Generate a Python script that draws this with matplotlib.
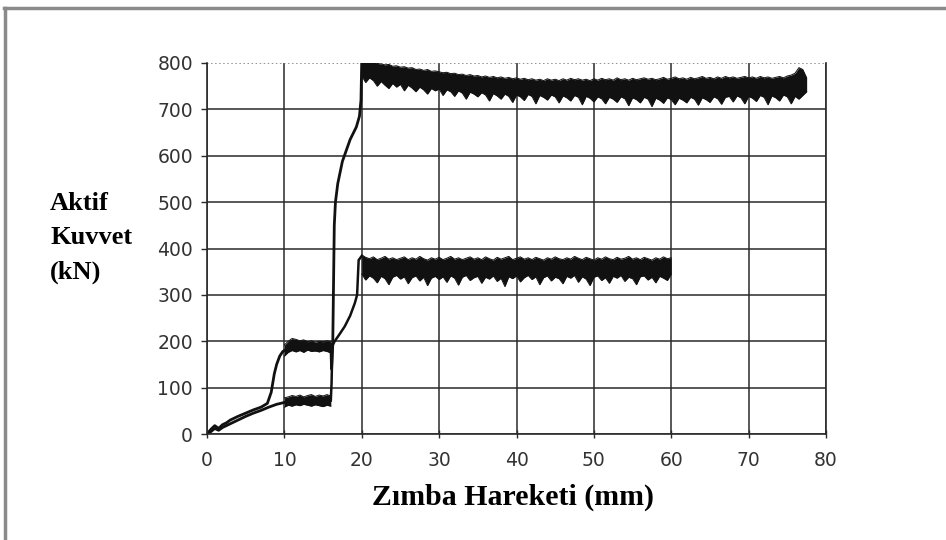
import numpy as np
import matplotlib
matplotlib.use("Agg")
import matplotlib.pyplot as plt
from matplotlib.lines import Line2D

# ---- data (kN vs mm) ----
# curve 1 (upper trace): ramp, first plateau, second rise, noisy top plateau
ramp1_x = [0, 0.5, 1.0, 1.5, 2.0, 2.5, 3, 4, 5, 6, 7, 7.8, 8.3, 8.7, 9.0, 9.4, 9.8, 10.0]
ramp1_y = [0, 10, 18, 12, 20, 24, 30, 38, 45, 52, 58, 66, 90, 130, 150, 168, 178, 180]

band1a_hi = [192, 200, 206, 204, 201, 203, 199, 201, 198, 200, 199, 201, 199]
band1a_lo = [168, 176, 180, 177, 180, 176, 181, 178, 179, 177, 180, 178, 175]

rise1_x = [16.0, 16.1, 16.25, 16.35, 16.45, 16.6, 16.9, 17.5, 18.5, 19.3, 19.7, 19.9, 20.0]
rise1_y = [192, 140, 190, 320, 450, 500, 540, 588, 635, 662, 685, 720, 805]

band1b_hi = [806, 803, 801, 804, 799, 798, 796, 797, 793, 794,
             791, 792, 789, 790, 786, 787, 784, 786, 782, 783,
             781, 779, 780, 777, 778, 775, 776, 773, 775, 772,
             773, 770, 772, 769, 771, 768, 770, 767, 769, 766,
             768, 765, 767, 764, 766, 763, 765, 762, 766, 763,
             765, 762, 766, 763, 767, 764, 766, 763, 765, 762,
             766, 763, 767, 764, 766, 763, 768, 764, 766, 763,
             767, 764, 766, 768, 765, 767, 764, 766, 769, 765,
             767, 770, 766, 768, 765, 769, 766, 768, 771, 767,
             769, 766, 770, 767, 771, 768, 770, 767, 769, 771,
             768, 770, 767, 771, 768, 770, 767, 769, 771, 768,
             772, 774, 778, 790, 786, 768]
band1b_lo = [772, 758, 768, 762, 750, 760, 752, 745, 756, 748,
             754, 740, 752, 746, 738, 748, 742, 733, 745, 740,
             744, 730, 742, 738, 728, 740, 735, 722, 737, 733,
             727, 736, 731, 718, 734, 729, 722, 733, 728, 715,
             731, 727, 719, 732, 728, 712, 730, 726, 720, 731,
             727, 714, 729, 725, 718, 730, 726, 710, 728, 724,
             716, 727, 723, 712, 726, 722, 715, 727, 723, 708,
             725, 721, 714, 726, 722, 706, 724, 720, 713, 725,
             721, 710, 724, 720, 714, 726, 722, 709, 725, 721,
             715, 727, 723, 711, 726, 728, 716, 729, 725, 712,
             728, 724, 717, 730, 726, 710, 729, 725, 718, 731,
             727, 712, 728, 722, 730, 738]

# curve 2 (lower trace)
ramp2_x = [0, 0.5, 1.0, 1.5, 2.0, 2.5, 3, 4, 5, 6, 7, 8, 9, 10]
ramp2_y = [0, 5, 12, 8, 14, 18, 22, 30, 38, 45, 51, 58, 64, 68]

band2a_hi = [78, 80, 83, 81, 84, 80, 83, 85, 81, 84, 82, 85, 82]
band2a_lo = [58, 62, 60, 63, 61, 64, 62, 60, 63, 61, 59, 62, 60]

rise2_x = [16.0, 16.1, 16.2, 16.5, 17.0, 17.8, 18.5, 19.1, 19.4, 19.6, 20.0]
rise2_y = [72, 110, 190, 200, 212, 232, 255, 282, 300, 375, 384]

band2b_hi = [386, 381, 378, 382, 376, 379, 383, 377, 380, 376,
             379, 382, 376, 380, 377, 383, 378, 375, 380, 377,
             381, 376, 379, 383, 377, 380, 376, 379, 382, 377,
             380, 376, 382, 378, 375, 381, 377, 380, 383, 376,
             379, 382, 377, 380, 376, 381, 378, 375, 380, 377,
             382, 378, 376, 380, 377, 383, 379, 376, 381, 378,
             375, 380, 377, 382, 378, 376, 381, 377, 379, 383,
             377, 380, 376, 381, 378, 375, 380, 377, 382, 378,
             380]
band2b_lo = [345, 332, 341, 336, 326, 340, 335, 322, 338, 342,
             334, 339, 324, 337, 341, 330, 338, 320, 336, 340,
             333, 339, 327, 341, 336, 321, 338, 342, 331, 337,
             340, 325, 338, 334, 341, 329, 336, 318, 339, 335,
             341, 328, 337, 342, 333, 339, 322, 337, 341, 330,
             338, 335, 324, 340, 336, 342, 327, 339, 334, 320,
             338, 341, 331, 337, 325, 340, 336, 342, 329, 338,
             335, 322, 339, 341, 332, 338, 326, 340, 336, 331,
             345]

xticks = [0, 10, 20, 30, 40, 50, 60, 70, 80]
yticks = [0, 100, 200, 300, 400, 500, 600, 700, 800]

# x positions of the sampled bands (0.5 mm steps)
band_a_x = 10 + 0.5 * np.arange(len(band1a_hi))
band1b_x = 20 + 0.5 * np.arange(len(band1b_hi))
band2b_x = 20 + 0.5 * np.arange(len(band2b_hi))

fig = plt.figure(figsize=(9.46, 5.4), dpi=100)
ax = fig.add_axes([207/946, 1-434/540, (826-207)/946, (434-63)/540])

ink = "#111111"
def band(x, lo, hi):
    ax.fill_between(x, lo, hi, color=ink, lw=0)
    ax.plot(x, hi, color=ink, lw=0.7)
    ax.plot(x, lo, color=ink, lw=0.7)

ax.plot(ramp1_x, ramp1_y, color=ink, lw=2)
band(band_a_x, band1a_lo, band1a_hi)
ax.plot(rise1_x, rise1_y, color=ink, lw=2)
band(band1b_x, band1b_lo, band1b_hi)

ax.plot(ramp2_x, ramp2_y, color=ink, lw=2)
band(band_a_x, band2a_lo, band2a_hi)
ax.plot(rise2_x, rise2_y, color=ink, lw=1.8)
band(band2b_x, band2b_lo, band2b_hi)

ax.set_xlim(0, 80)
ax.set_ylim(0, 800)
ax.set_xticks(xticks)
ax.set_yticks(yticks)
ax.grid(True, color="#2a2a2a", lw=1.1)
ax.set_axisbelow(True)
ax.yaxis.get_gridlines()[-1].set_linestyle(":")
ax.yaxis.get_gridlines()[-1].set_color("#777777")

for s in ["left", "bottom", "right"]:
    ax.spines[s].set_color("#2a2a2a")
    ax.spines[s].set_linewidth(1.2)
ax.spines["top"].set_visible(False)

ax.tick_params(axis="y", direction="out", length=4, width=1, pad=6,
               labelsize=13.5, labelcolor="#333333", color="#2a2a2a")
ax.tick_params(axis="x", direction="inout", length=6, width=1, pad=9,
               labelsize=13.5, labelcolor="#333333", color="#2a2a2a")

fig.text(50/946, 1-238/540, "Aktif\nKuvvet\n(kN)", ha="left", va="center",
         fontsize=19, family="Liberation Serif", weight="bold", linespacing=1.6)
fig.text(513/946, 1-497/540, "Zımba Hareketi (mm)", ha="center", va="center",
         fontsize=21.5, family="Liberation Serif", weight="bold")

# scanned frame (top and left edges only)
fig.add_artist(Line2D([4/946, 1.0], [1-8/540, 1-8/540], transform=fig.transFigure,
                      color="#8a8a8a", lw=2.5))
fig.add_artist(Line2D([5/946, 5/946], [0, 1-8/540], transform=fig.transFigure,
                      color="#8a8a8a", lw=2.5))

fig.savefig("out.png", dpi=100)
